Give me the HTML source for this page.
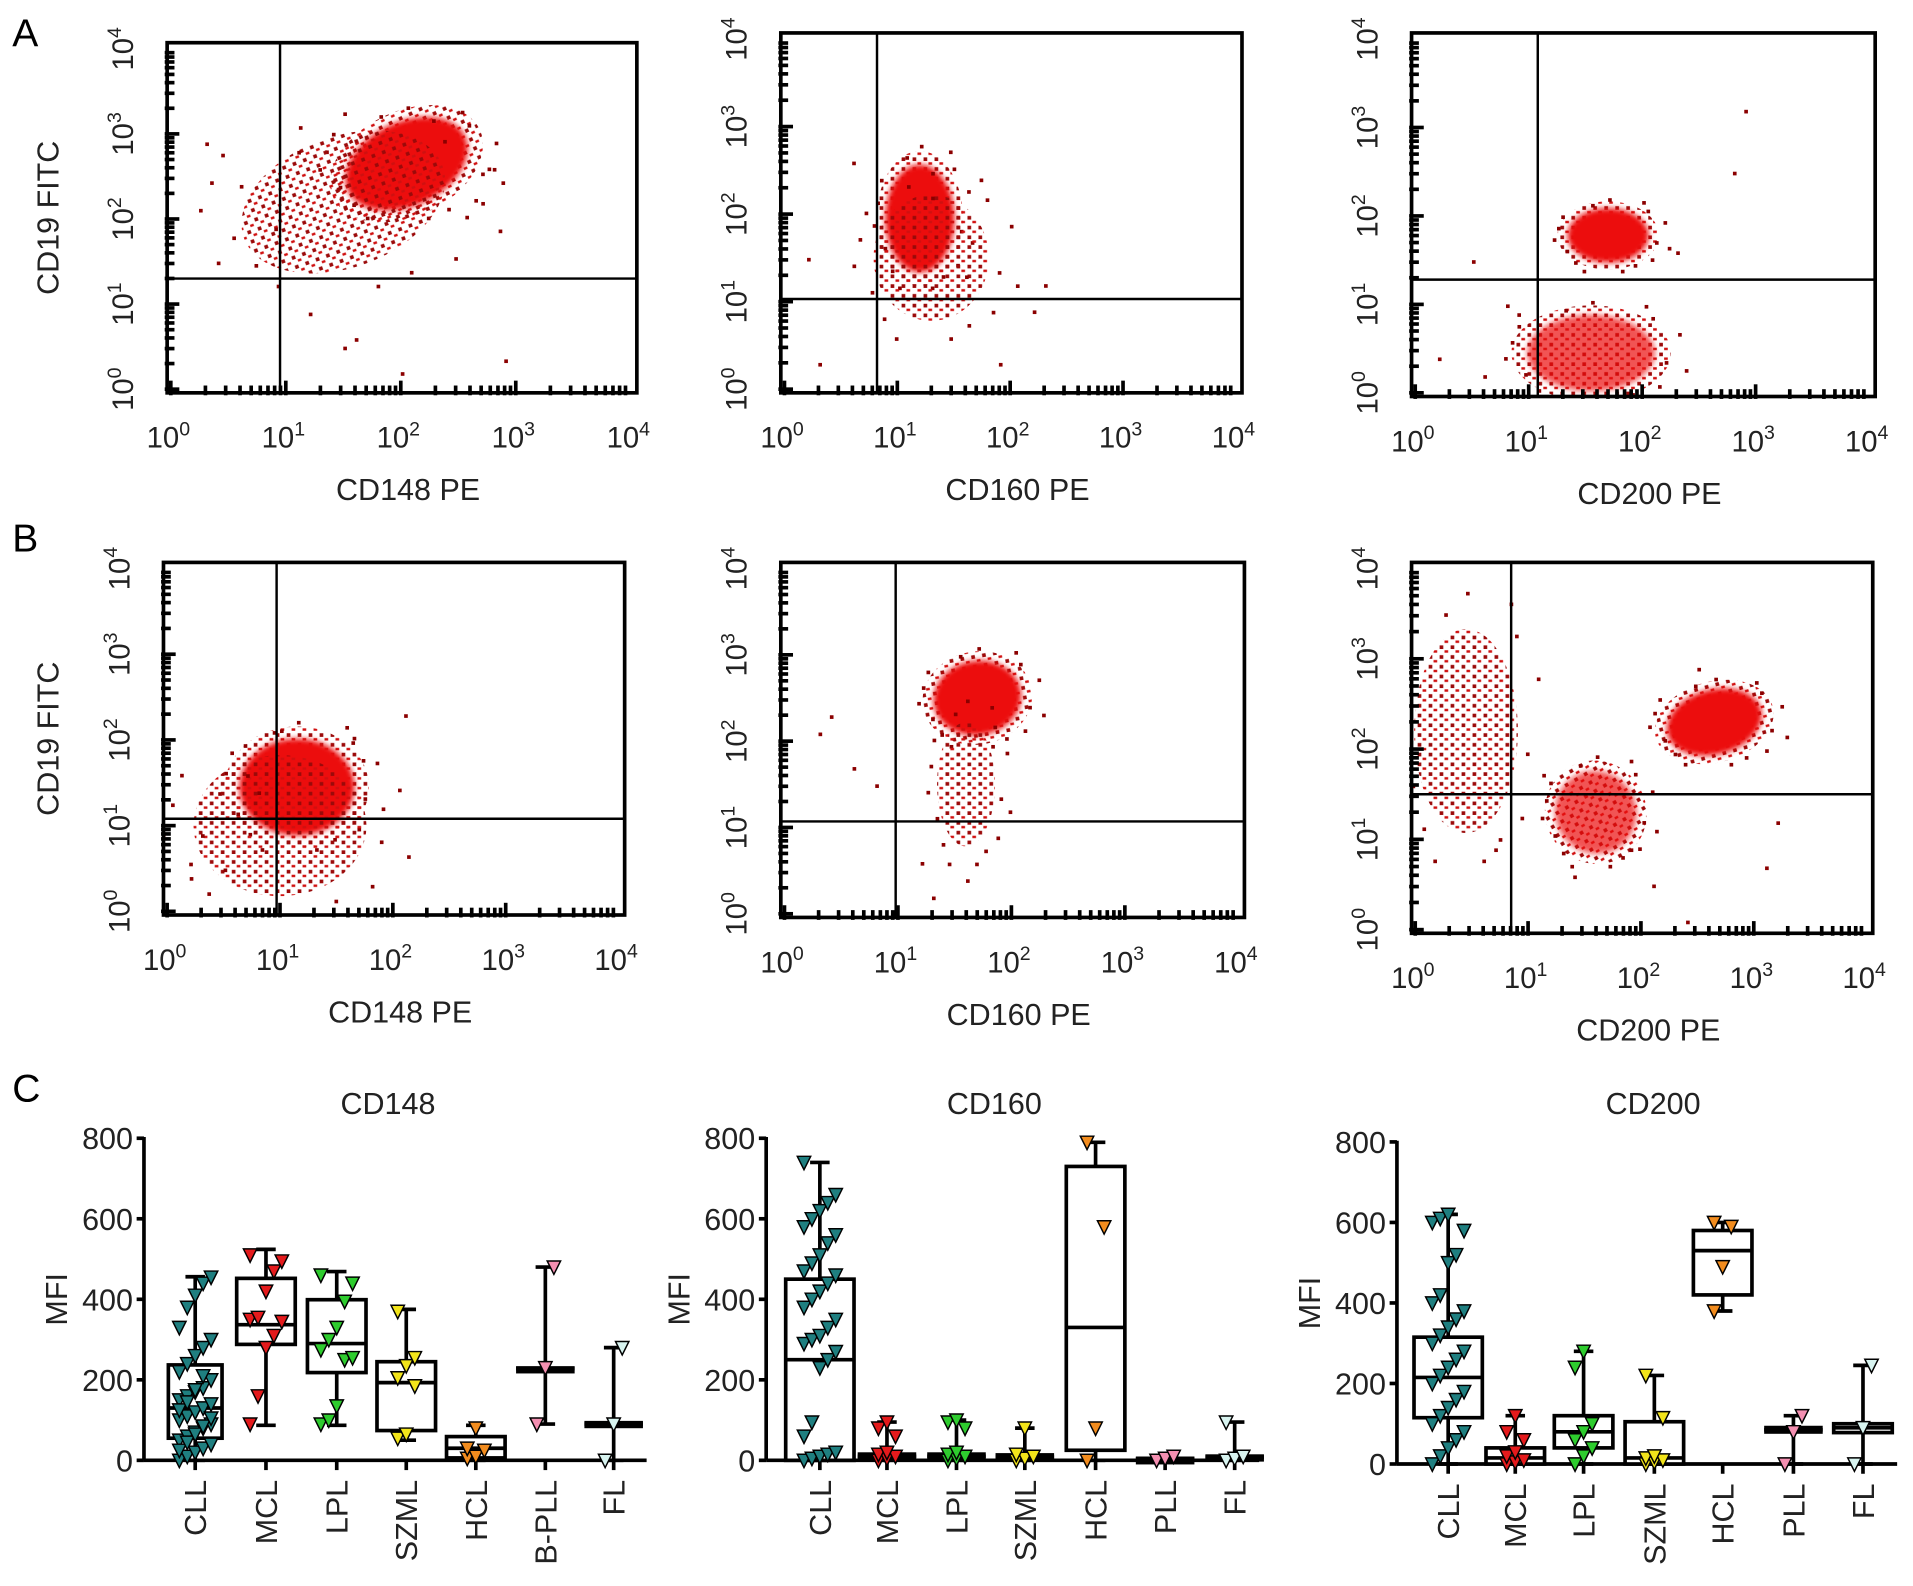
<!DOCTYPE html>
<html><head><meta charset="utf-8"><style>
html,body{margin:0;padding:0;background:#fff;}
svg{display:block;font-family:"Liberation Sans",Arial,sans-serif;}
</style></head><body>
<svg id="fig" width="1913" height="1586" viewBox="0 0 1568 1300" preserveAspectRatio="none" xmlns="http://www.w3.org/2000/svg">
<defs>
<pattern id="speck" width="9" height="8" patternUnits="userSpaceOnUse">
<rect x="1" y="1" width="3" height="3" fill="#9b0a0a"/>
<rect x="5" y="5" width="3" height="2" fill="#d01010"/>
</pattern>
</defs>
<rect width="1568" height="1300" fill="#fff"/>
<text x="10" y="38" font-size="32">A</text>
<text x="10" y="452" font-size="32">B</text>
<text x="10" y="903" font-size="32">C</text>
<g id="flow"></g>
<g id="box"></g>
</svg>
<script>
// ---- Flow cytometry data (log10 units) ----
var flowTitles = ["CD148 PE","CD160 PE","CD200 PE","CD148 PE","CD160 PE","CD200 PE"];
var gateX = [0.95, 0.82, 1.08, 0.97, 0.98, 0.85];
var gateY = [1.3, 1.03, 1.28, 1.08, 1.07, 1.5];
// blobs: [panel, cx, cy, rx, ry, rotation, opacity]
var blobPanel = [0,0,1,1,2,2,3,3,4,4,5,5,5];
var blobCX = [2.05,1.5,1.2,1.3,1.7,1.55,1.15,1.0,1.7,1.6,2.65,1.6,0.45];
var blobCY = [2.65,2.2,1.95,1.5,1.78,0.45,1.45,1.0,2.5,1.5,2.3,1.3,2.2];
var blobRX = [0.55,0.9,0.3,0.5,0.35,0.55,0.5,0.75,0.38,0.25,0.42,0.35,0.45];
var blobRY = [0.48,0.75,0.6,0.7,0.3,0.42,0.55,0.8,0.42,0.7,0.35,0.45,1.1];
var blobRot = [-25,-20,0,0,0,0,0,0,-10,0,-15,-30,0];
var blobOp = [1,0.25,1,0.25,1,0.7,1,0.25,1,0.3,1,0.7,0.3];
// sparse events: [panel, x, y]
var dotP = [0,0,0,0,0,0,0,0,0,0,0,0,1,1,1,1,1,1,1,1,2,2,2,2,2,2,2,2,3,3,3,3,3,3,4,4,4,4,4,4,4,5,5,5,5,5,5,5,5];
var dotX = [0.3,0.6,0.9,1.2,1.1,1.6,2.8,2.9,0.4,1.5,2.7,2.0,0.3,0.6,1.6,2.2,1.9,2.3,0.2,1.3,0.5,0.8,2.9,2.8,0.2,0.6,2.3,0.9,0.3,0.7,0.5,2.1,0.2,0.8,0.3,0.6,1.2,1.6,0.8,0.4,1.3,3.1,2.1,1.9,2.5,3.2,1.4,2.4,0.7];
var dotY = [2.9,2.4,1.9,0.9,2.8,0.6,2.6,0.35,1.5,0.5,2.2,0.2,0.3,2.6,1.3,0.9,0.3,1.2,1.5,2.2,1.5,1.0,3.2,2.5,0.4,0.2,1.6,0.9,0.9,1.6,0.5,2.3,0.4,1.4,2.1,1.7,0.6,0.4,1.5,2.3,0.2,0.7,0.5,0.9,2.9,1.2,0.6,0.1,0.9];
var haloDX = [1.1,-1.0,0.9,-1.2,0.3,-0.4,1.3,-0.8,0.6,-1.3,1.0,0.0,-0.6,0.8,1.4,-1.1];
var haloDY = [0.2,0.5,-0.9,-0.3,1.2,-1.1,-0.5,0.9,1.0,0.1,0.8,-1.3,1.2,-1.2,0.4,-0.7];

var flowBoxes = [[137,522,35,322],[640,1018,27,322],[1157,1537,27,325],[134,512,461,750],[640,1020,461,752],[1157,1535,461,765]];
var NS="http://www.w3.org/2000/svg";
function mk(t,a,p){var e=document.createElementNS(NS,t);for(var k in a)e.setAttribute(k,a[k]);p.appendChild(e);return e;}
var flowG=document.getElementById('flow');
for (var i=0;i<6;i++){
  var b=flowBoxes[i];
  var g=mk('g',{},flowG);
  
  
  (function(b,i,g){
  var sx=function(v){return b[0]+3+v/4*(b[1]-b[0]-8);};
  var sy=function(v){return b[3]-3-v/4*(b[3]-b[2]-8);};
  var defs=mk('defs',{},g);
  var f=mk('filter',{id:'bl'+i,x:'-50%',y:'-50%',width:'200%',height:'200%'},defs);
  mk('feGaussianBlur',{stdDeviation:'2.5'},f);
  var cl=mk('clipPath',{id:'cp'+i},defs);mk('rect',{x:b[0],y:b[2],width:b[1]-b[0],height:b[3]-b[2]},cl);
  var inner=mk('g',{'clip-path':'url(#cp'+i+')'},g);
  for (var k=0;k<blobPanel.length;k++){ if(blobPanel[k]!==i) continue;
    var cx=sx(blobCX[k]),cy=sy(blobCY[k]);
    var rx=blobRX[k]/4*(b[1]-b[0]),ry=blobRY[k]/4*(b[3]-b[2]);
    var tr='rotate('+blobRot[k]+' '+cx+' '+cy+')';
    var sp=mk('ellipse',{cx:cx,cy:cy,rx:rx*(blobOp[k]<0.5?1:1.25),ry:ry*(blobOp[k]<0.5?1:1.25),fill:'url(#speck)',transform:tr},inner);
    
    
    if (blobOp[k]>=0.5){
      var e=mk('ellipse',{cx:cx,cy:cy,rx:rx,ry:ry,fill:'#ec1010',opacity:blobOp[k],filter:'url(#bl'+i+')',transform:tr},inner);
      
      
    }
    for (var h=0;h<haloDX.length;h++){
      var d=mk('rect',{x:cx+haloDX[h]*rx*1.05,y:cy+haloDY[h]*ry*1.05,width:3,height:3,fill:'#8b0000'},inner);
      
      
    }
  }
  for (var k=0;k<dotP.length;k++){ if(dotP[k]!==i) continue;
    var d=mk('rect',{x:sx(dotX[k]),y:sy(dotY[k]),width:3,height:3,fill:'#8b0000'},inner);
    
    
  }
  var fr=mk('rect',{x:b[0],y:b[2],width:b[1]-b[0],height:b[3]-b[2],fill:'none',stroke:'#000','stroke-width':3},g);
  
  
  var gx=mk('line',{x1:sx(gateX[i]),x2:sx(gateX[i]),y1:b[2],y2:b[3],stroke:'#000','stroke-width':2},g);
  
  
  var gy=mk('line',{x1:b[0],x2:b[1],y1:sy(gateY[i]),y2:sy(gateY[i]),stroke:'#000','stroke-width':2},g);
  
  
  for (var dd=0;dd<4;dd++) for (var m=1;m<10;m++){
    var v=dd+Math.log10(m), L=(m===1)?10:6;
    mk('line',{x1:sx(v),x2:sx(v),y1:b[3]+2,y2:b[3]-L,stroke:'#000','stroke-width':3},g);
    mk('line',{x1:b[0]-2,x2:b[0]+L,y1:sy(v),y2:sy(v),stroke:'#000','stroke-width':3},g);
  }
  for (var dd=0;dd<=4;dd++){
    var t=mk('text',{x:sx(dd)-2,y:b[3]+45,'font-size':24,'text-anchor':'middle',fill:'#222'},g);
    t.innerHTML='10<tspan dy="-10" font-size="16">'+dd+'</tspan>';
    
    
    var yx=b[0]-28, yy=sy(dd);
    var t2=mk('text',{x:yx,y:yy,'font-size':24,'text-anchor':'middle',fill:'#222',transform:'rotate(-90 '+yx+' '+yy+')'},g);
    t2.innerHTML='10<tspan dy="-10" font-size="16">'+dd+'</tspan>';
    
    
  }
  var xt=mk('text',{x:(b[0]+b[1])/2+5,y:b[3]+88,'font-size':25,'text-anchor':'middle',fill:'#222'},g);
  xt.textContent=flowTitles[i];
  
  
  if (i===0||i===3){
    var ty=(b[2]+b[3])/2;
    var yt=mk('text',{x:48,y:ty,'font-size':25,'text-anchor':'middle',fill:'#222',transform:'rotate(-90 48 '+ty+')'},g);
    yt.textContent='CD19 FITC';
    
    
  }
  })(b,i,g);
}

// ---- Box plot data (MFI) ----
var titles = ["CD148","CD160","CD200"];
var cats148 = ["CLL","MCL","LPL","SZML","HCL","B-PLL","FL"];
var cats160 = ["CLL","MCL","LPL","SZML","HCL","PLL","FL"];
var cats200 = ["CLL","MCL","LPL","SZML","HCL","PLL","FL"];
var yTicks = [0,200,400,600,800];
var colors = ["#1f7f80","#e41a1c","#2ecc2e","#f2e41a","#f28c1e","#f48fb1","#d8f4f0"];
var min148=[0,87,87,50,0,90,0], q1_148=[55,288,218,74,6,222,82], med148=[130,337,290,193,30,228,90], q3_148=[237,452,399,245,59,234,98], max148=[456,524,469,375,87,480,280];
var min160=[0,0,0,0,0,0,0], q1_160=[0,0,0,0,25,0,0], med160=[250,10,10,8,330,5,8], q3_160=[450,20,20,18,730,8,15], max160=[740,95,100,80,790,12,95];
var min200=[0,0,0,0,380,0,0], q1_200=[115,0,40,0,420,75,78], med200=[215,15,80,15,530,85,90], q3_200=[315,40,120,105,580,95,100], max200=[620,120,280,220,600,120,245];
var pts148=[[0,10,20,30,40,50,60,70,80,90,100,110,120,130,140,150,160,170,180,200,220,240,260,280,300,330,380,410,440,455,25,45,65,85,105,125,145,175,210],[90,160,280,310,345,350,355,420,470,495,510],[90,100,135,250,255,275,300,330,395,440,460],[55,65,185,205,235,255,370],[5,10,25,30,80],[90,230,480],[0,90,280]];
var pts160=[[0,5,10,15,20,60,95,230,250,270,290,300,310,330,350,380,400,420,440,460,470,490,510,540,560,580,600,620,640,660,740],[0,5,10,15,20,60,80,95],[0,5,10,15,20,80,95,100],[0,5,10,15,80],[0,80,580,790],[0,5,10],[0,5,10,95]];
var pts200=[[0,20,40,60,80,100,120,140,160,180,200,220,240,260,280,300,320,340,360,380,400,420,500,520,580,600,610,620],[0,5,10,20,30,60,80,120],[0,20,40,60,80,100,240,280],[0,5,10,15,20,115,220],[380,490,590,600],[0,80,120],[0,90,245]];

var boxPanels=[
 {x0:118,x1:530,y0:1197,y8:933,cx:[160,218,276,333,390,447,503],cats:cats148,mn:min148,q1:q1_148,md:med148,q3:q3_148,mx:max148,pts:pts148,tx:318},
 {x0:628,x1:1032,y0:1197,y8:933,cx:[672,727,784,840,898,955,1012],cats:cats160,mn:min160,q1:q1_160,md:med160,q3:q3_160,mx:max160,pts:pts160,tx:815},
 {x0:1145,x1:1555,y0:1200,y8:936,cx:[1187,1242,1298,1356,1412,1470,1527],cats:cats200,mn:min200,q1:q1_200,md:med200,q3:q3_200,mx:max200,pts:pts200,tx:1355}
];
var boxG=document.getElementById('box');
boxPanels.forEach(function(P,pi){
  var g=mk('g',{},boxG);
  
  
  var y=function(v){return P.y0-(v/800)*(P.y0-P.y8);};
  var tt=mk('text',{x:P.tx,y:913,'font-size':25,'text-anchor':'middle',fill:'#222'},g);
  tt.textContent=titles[pi];
  
  
  var my=(P.y0+P.y8)/2;
  var mt=mk('text',{x:P.x0-63,y:my,'font-size':25,'text-anchor':'middle',fill:'#222',transform:'rotate(-90 '+(P.x0-63)+' '+my+')'},g);
  mt.textContent='MFI';
  
  
  mk('line',{x1:P.x0,x2:P.x0,y1:y(800)-1,y2:P.y0,stroke:'#000','stroke-width':3},g);
  mk('line',{x1:P.x0,x2:P.x1,y1:P.y0,y2:P.y0,stroke:'#000','stroke-width':3},g);
  yTicks.forEach(function(v){
    mk('line',{x1:P.x0-6,x2:P.x0,y1:y(v),y2:y(v),stroke:'#000','stroke-width':3},g);
    var t=mk('text',{x:P.x0-9,y:y(v)+9,'font-size':25,'text-anchor':'end',fill:'#222'},g);
    t.textContent=v;
    
    
  });
  P.cats.forEach(function(c,ci){
    var cx=P.cx[ci];
    mk('line',{x1:cx,x2:cx,y1:P.y0,y2:P.y0+8,stroke:'#000','stroke-width':3},g);
    var lx=cx+9, ly=P.y0+16;
    var t=mk('text',{x:lx,y:ly,'font-size':25,'text-anchor':'end',fill:'#222',transform:'rotate(-90 '+lx+' '+ly+')'},g);
    t.textContent=c;
    
    
    var bg=mk('g',{},g);
    
    
    var hw=(ci===0&&pi>0)?28:24;
    if (pi===0&&ci===0) hw=22;
    mk('line',{x1:cx,x2:cx,y1:y(P.mx[ci]),y2:y(P.mn[ci]),stroke:'#000','stroke-width':3},bg);
    mk('line',{x1:cx-8,x2:cx+8,y1:y(P.mx[ci]),y2:y(P.mx[ci]),stroke:'#000','stroke-width':3},bg);
    mk('line',{x1:cx-8,x2:cx+8,y1:y(P.mn[ci]),y2:y(P.mn[ci]),stroke:'#000','stroke-width':3},bg);
    var bh=y(P.q1[ci])-y(P.q3[ci]);
    if (P.q3[ci]-P.q1[ci]>20) mk('rect',{x:cx-hw,y:y(P.q3[ci]),width:2*hw,height:bh,fill:'#fff',stroke:'#000','stroke-width':3},bg);
    else mk('rect',{x:cx-hw,y:y(P.q3[ci]),width:2*hw,height:Math.max(bh,6),fill:'#000'},bg);
    mk('line',{x1:cx-hw,x2:cx+hw,y1:y(P.md[ci]),y2:y(P.md[ci]),stroke:'#000','stroke-width':3},bg);
    var n=P.pts[ci].length;
    P.pts[ci].forEach(function(v,k){
      var ox=n>10?((k%5)-2)*6.5:((k%3)-1)*7;
      var px=cx+ox, py=y(v);
      var tri=mk('polygon',{points:(px-5.5)+','+(py-5)+' '+(px+5.5)+','+(py-5)+' '+px+','+(py+6),fill:colors[ci],stroke:'#000','stroke-width':1.2},bg);
      
      
    });
  });
});
</script>
</body></html>
